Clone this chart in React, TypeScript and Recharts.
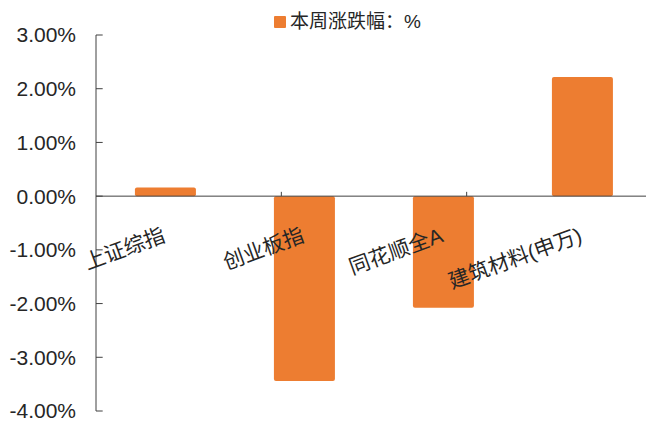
import React from 'react';
import {
  BarChart,
  Bar,
  XAxis,
  YAxis,
  ReferenceLine,
  LabelList,
} from 'recharts';

const categories = ['上证综指', '创业板指', '同花顺全A', '建筑材料(申万)'];
const weeklyChange = [0.16, -3.44, -2.08, 2.22];
const yTicks = [-4, -3, -2, -1, 0, 1, 2, 3];
const boundaryTicks = [1, 2, 3];
const legendLabel = '本周涨跌幅：%';

const BAR_COLOR = '#ED7D31';
const AXIS_COLOR = '#404040';
const TEXT_COLOR = '#262626';

const data = categories.map((name, i) => ({ name, value: weeklyChange[i] }));

function CategoryLabel(props: any) {
  const vb = props.viewBox || props;
  const idx = typeof props.index === 'number' ? props.index : categories.indexOf(props.value);
  const v = weeklyChange[idx];
  const { x, y, width, height } = vb;
  const zeroY = v >= 0 ? Math.max(y, y + height) : Math.min(y, y + height);
  const cx = x + width / 2 + 1;
  const ty = zeroY + 45;
  return (
    <text
      x={cx}
      y={ty}
      textAnchor="end"
      transform={`rotate(-20 ${cx} ${ty})`}
      fontSize={21}
      fill={TEXT_COLOR}
    >
      {categories[idx]}
    </text>
  );
}

export default function App() {
  return (
    <div
      style={{
        position: 'fixed',
        left: 0,
        top: 0,
        width: 646,
        height: 423,
        overflow: 'hidden',
        background: '#fff',
        fontFamily: '"Liberation Sans", "Noto Sans CJK SC", sans-serif',
      }}
    >
      <div style={{ position: 'absolute', left: 274, top: 12, display: 'flex', alignItems: 'center', zIndex: 2 }}>
        <span style={{ width: 12, height: 12, background: BAR_COLOR, borderRadius: 1, marginRight: 4 }} />
        <span style={{ fontSize: 19, color: TEXT_COLOR, lineHeight: '20px' }}>{legendLabel}</span>
      </div>
      <BarChart
        width={660}
        height={423}
        data={data}
        margin={{ top: 35, right: 8, bottom: 12, left: 0 }}
        barCategoryGap="28%"
      >
        <XAxis dataKey="name" hide />
        <XAxis xAxisId="grid" type="number" domain={[0, 4]} allowDataOverflow hide />
        <YAxis
          width={96}
          domain={[-4, 3]}
          ticks={yTicks}
          interval={0}
          allowDataOverflow
          tickFormatter={(v: number) => v.toFixed(2) + '%'}
          axisLine={{ stroke: AXIS_COLOR, strokeWidth: 1 }}
          tickLine={false}
          tickSize={5}
          tickMargin={15}
          tick={{ fill: TEXT_COLOR, fontSize: 21 }}
        />
        {yTicks.map((t) => (
          <ReferenceLine
            key={'y' + t}
            xAxisId="grid"
            segment={[{ x: 0, y: t }, { x: 0.036, y: t }]}
            stroke={AXIS_COLOR}
            ifOverflow="visible"
          />
        ))}
        <ReferenceLine y={0} stroke={AXIS_COLOR} strokeWidth={1} />
        {boundaryTicks.map((t) => (
          <ReferenceLine
            key={'x' + t}
            xAxisId="grid"
            segment={[{ x: t, y: 0 }, { x: t, y: 0.08 }]}
            stroke={AXIS_COLOR}
            ifOverflow="visible"
          />
        ))}
        <Bar dataKey="value" fill={BAR_COLOR} radius={2} isAnimationActive={false}>
          <LabelList dataKey="name" content={<CategoryLabel />} />
        </Bar>
      </BarChart>
    </div>
  );
}
